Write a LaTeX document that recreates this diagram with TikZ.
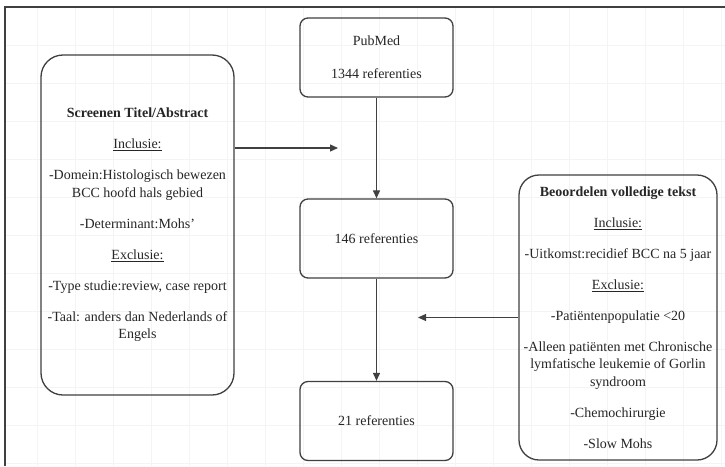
\documentclass[tikz,border=0pt]{standalone}
\usepackage{fontspec}
\setmainfont{Liberation Serif}
\usetikzlibrary{arrows.meta}
\definecolor{linec}{gray}{0.25}
\definecolor{txtc}{gray}{0.15}
\definecolor{gridc}{gray}{0.955}
\begin{document}
\begin{tikzpicture}[x=1pt,y=-1pt,
  every node/.style={text=txtc, font=\fontsize{14}{17.5}\selectfont},
  refbox/.style={draw=linec, line width=1.3pt, rounded corners=8pt, minimum width=153pt, minimum height=79pt, inner sep=0pt, align=center},
  critbox/.style={draw=linec, line width=1.3pt, rounded corners=22pt, inner sep=0pt, align=center},
  arr/.style={draw=linec, line width=1.2pt, -{Triangle[length=8pt,width=7pt]}}]
\fill[white] (0,0) rectangle (725,466);
\useasboundingbox (0,0) rectangle (725,466);
% faint grid
\foreach \gx in {37,75,113,151,189,227,265,303,341,379,417,455,493,531,569,607,645,683,721}
  \draw[gridc, line width=0.8pt] (\gx,8) -- (\gx,466);
\foreach \gy in {45,83,121,159,197,235,273,311,349,387,425,463}
  \draw[gridc, line width=0.8pt] (5,\gy) -- (725,\gy);
% frame
\draw[linec, line width=1.5pt] (5,466) -- (5,7) -- (725,7);

% central boxes
\node[refbox] (pub) at (376.5,57.5) {PubMed\\[15.5pt]1344 referenties};
\node[refbox] (m146) at (376.5,238.5) {146 referenties};
\node[refbox] (r21) at (376.5,421) {21 referenties};

% criteria boxes
\node[critbox, minimum width=193pt, minimum height=340pt] (left) at (137.5,225)
 {\textbf{Screenen Titel/Abstract}\\[13.5pt]
  \underline{Inclusie:}\\[13.5pt]
  -Domein:Histologisch bewezen\\
  BCC hoofd hals gebied\\[13.5pt]
  -Determinant:Mohs'\\[13.5pt]
  \underline{Exclusie:}\\[13.5pt]
  -Type studie:review, case report\\[13.5pt]
  -Taal: anders dan Nederlands of\\
  Engels};
\node[critbox, minimum width=198pt, minimum height=285pt, rounded corners=20pt] (right) at (618,317.5)
 {\textbf{Beoordelen volledige tekst}\\[13.5pt]
  \underline{Inclusie:}\\[13.5pt]
  -Uitkomst:recidief BCC na 5 jaar\\[13.5pt]
  \underline{Exclusie:}\\[13.5pt]
  -Patiëntenpopulatie <20\\[13.5pt]
  -Alleen patiënten met Chronische\\
  lymfatische leukemie of Gorlin\\
  syndroom\\[13.5pt]
  -Chemochirurgie\\[13.5pt]
  -Slow Mohs};

% connectors
\coordinate (la) at (338,148);
\coordinate (ra) at (418,317.5);
\draw[arr] (pub) -- (m146);
\draw[arr] (m146) -- (r21);
\draw[arr] (left.east |- la) -- (la);
\draw[arr] (right.west |- ra) -- (ra);
\end{tikzpicture}
\end{document}
